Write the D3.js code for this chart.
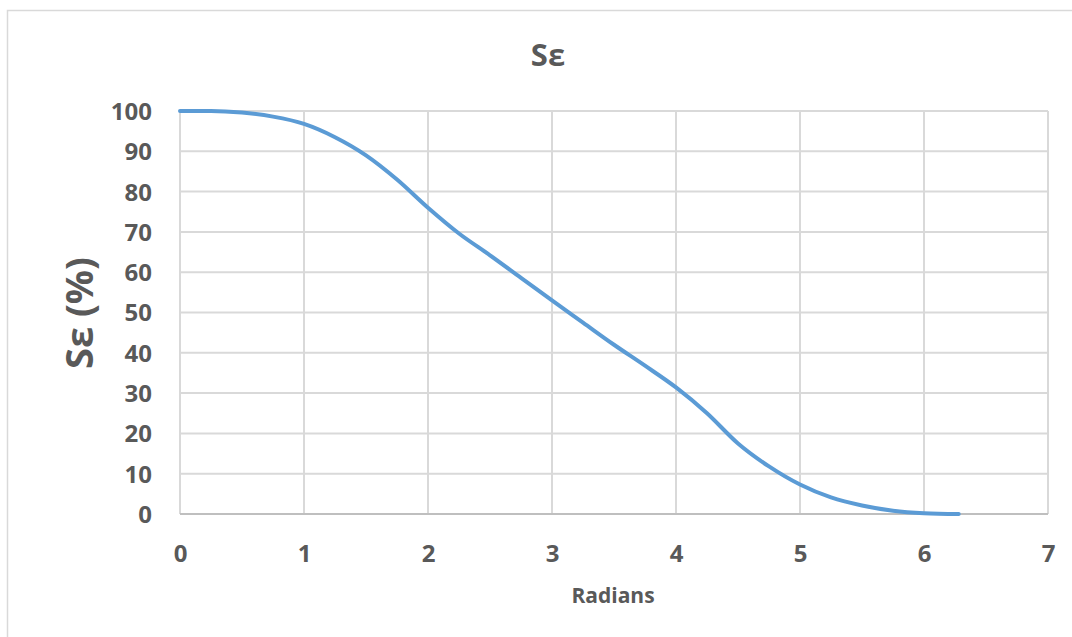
<!DOCTYPE html>
<html>
<head>
<meta charset="utf-8">
<script src="https://cdn.jsdelivr.net/npm/d3@7"></script>
<style>
  html, body { margin: 0; padding: 0; background: #ffffff; }
  svg { display: block; }
  text { font-family: "Open Sans", "DejaVu Sans", sans-serif; font-weight: bold; fill: #595959; }
</style>
</head>
<body>
<svg id="chart" width="1072" height="637"></svg>
<script>
const title = "Sε";
const xLabel = "Radians";
const yLabel = "Sε (%)";
const radians = [0, 0.25, 0.5, 0.75, 1.0, 1.25, 1.5, 1.75, 2.0, 2.25, 2.5, 2.75, 3.0, 3.25, 3.5, 3.75, 4.0, 4.25, 4.5, 4.75, 5.0, 5.25, 5.5, 5.75, 6.0, 6.28];
const sEpsilon = [100, 100, 99.6, 98.6, 96.8, 93.5, 89, 83, 76, 69.6, 64.2, 58.6, 53, 47.5, 42, 36.8, 31.4, 25, 17.5, 11.8, 7.3, 4.1, 2.1, 0.8, 0.2, 0];
const xTicks = [0, 1, 2, 3, 4, 5, 6, 7];
const yTicks = [0, 10, 20, 30, 40, 50, 60, 70, 80, 90, 100];

const svg = d3.select("#chart");
const plot = { left: 180, right: 1048, top: 111, bottom: 514 };

// outer chart frame
svg.append("rect")
  .attr("x", 7.5).attr("y", 10.5)
  .attr("width", 1100).attr("height", 700)
  .attr("fill", "#ffffff").attr("stroke", "#D9D9D9").attr("stroke-width", 1.5);

const x = d3.scaleLinear().domain([0, 7]).range([plot.left, plot.right]);
const y = d3.scaleLinear().domain([0, 100]).range([plot.bottom, plot.top]);

// gridlines
const grid = svg.append("g");
grid.selectAll("line.h").data(yTicks.filter(d => d > 0)).enter().append("line")
  .attr("x1", plot.left).attr("x2", plot.right)
  .attr("y1", d => y(d)).attr("y2", d => y(d))
  .attr("stroke", "#D9D9D9").attr("stroke-width", 2);
grid.selectAll("line.v").data(xTicks).enter().append("line")
  .attr("x1", d => x(d)).attr("x2", d => x(d))
  .attr("y1", plot.top).attr("y2", plot.bottom)
  .attr("stroke", "#D9D9D9").attr("stroke-width", 2);

// x axis line
svg.append("line")
  .attr("x1", plot.left).attr("x2", plot.right)
  .attr("y1", y(0)).attr("y2", y(0))
  .attr("stroke", "#BFBFBF").attr("stroke-width", 2);

// axes (labels only)
const xAxis = d3.axisBottom(x).tickValues(xTicks).tickSize(0).tickPadding(0).tickFormat(d3.format("d"));
const gx = svg.append("g").attr("transform", `translate(0, 562)`).call(xAxis);
gx.select(".domain").remove();
gx.selectAll("text").attr("dy", 0).style("font-size", "24px");

const yAxis = d3.axisLeft(y).tickValues(yTicks).tickSize(0).tickPadding(0).tickFormat(d3.format("d"));
const gy = svg.append("g").attr("transform", `translate(152, 0)`).call(yAxis);
gy.select(".domain").remove();
gy.selectAll("text").attr("dy", "0.35em").style("font-size", "24px");

// line
const line = d3.line()
  .x((d, i) => x(radians[i]))
  .y(d => y(d))
  .curve(d3.curveMonotoneX);
svg.append("path")
  .datum(sEpsilon)
  .attr("d", line)
  .attr("fill", "none")
  .attr("stroke", "#5B9BD5")
  .attr("stroke-width", 4)
  .attr("stroke-linecap", "round");

// titles
svg.append("text").attr("x", 548).attr("y", 66)
  .attr("text-anchor", "middle").style("font-size", "31px").text(title);
svg.append("text").attr("x", 613).attr("y", 603)
  .attr("text-anchor", "middle").style("font-size", "21px").text(xLabel);
svg.append("text")
  .attr("transform", "translate(93, 313) rotate(-90)")
  .attr("text-anchor", "middle").style("font-size", "38px").text(yLabel);
</script>
</body>
</html>
